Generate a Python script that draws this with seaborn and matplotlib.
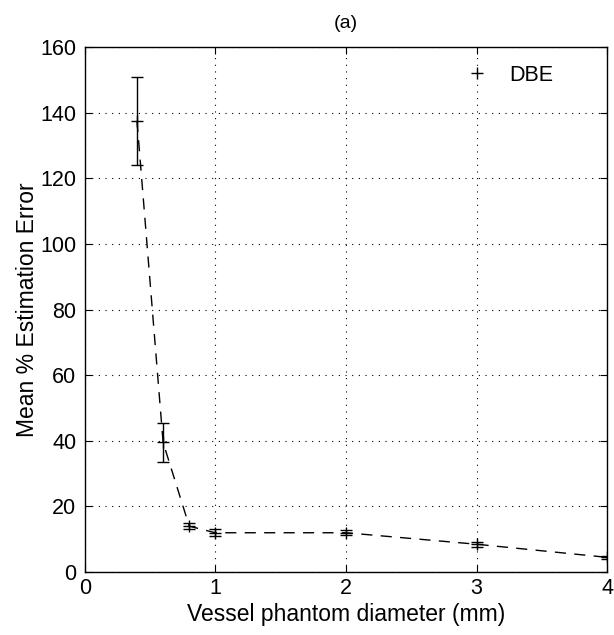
import matplotlib
matplotlib.use("Agg")
import matplotlib.pyplot as plt
import seaborn as sns
import pandas as pd

diameter = [0.4, 0.6, 0.8, 1.0, 2.0, 3.0, 4.0]
mean_err = [137.5, 39.5, 14.0, 12.0, 12.0, 8.5, 4.5]
err_low = [124.0, 33.5, 13.0, 11.0, 11.3, 7.8, 4.0]
err_high = [151.0, 45.5, 15.0, 13.0, 12.7, 9.2, 5.0]

sns.set_style("white")
plt.rcParams['font.family'] = ['Liberation Sans', 'DejaVu Sans']
plt.rcParams['text.color'] = 'black'
plt.rcParams['axes.labelcolor'] = 'black'
plt.rcParams['xtick.color'] = 'black'
plt.rcParams['ytick.color'] = 'black'

df = pd.DataFrame({"d": diameter, "m": mean_err})

fig = plt.figure(figsize=(6.14, 6.35), dpi=100)
ax = fig.add_axes([0.138, 0.099, 0.851, 0.827])

sns.lineplot(data=df, x="d", y="m", ax=ax, color="black", linestyle=(0, (8, 6)),
             linewidth=1.0, marker="+", markersize=9, markeredgewidth=1.0,
             markeredgecolor="black", label="DBE")
yerr = [[m - l for m, l in zip(mean_err, err_low)],
        [h - m for m, h in zip(mean_err, err_high)]]
ax.errorbar(diameter, mean_err, yerr=yerr, fmt="none", ecolor="black",
            elinewidth=1.0, capsize=4, capthick=1.0)

ax.set_xlim(0, 4)
ax.set_ylim(0, 160)
ax.set_xticks([0, 1, 2, 3, 4])
ax.set_yticks(range(0, 161, 20))
ax.grid(True, linestyle=(0, (1, 5)), color="black", linewidth=0.8)
for s in ax.spines.values():
    s.set_color("black")
    s.set_linewidth(1.0)
ax.tick_params(axis="both", labelsize=15.5, direction="in", length=5, color="black",
               top=True, right=True, left=True, bottom=True, pad=6)
ax.tick_params(axis="x", pad=4)
ax.set_xlabel("Vessel phantom diameter (mm)", fontsize=16.5, labelpad=3)
ax.set_ylabel("Mean % Estimation Error", fontsize=16.5, labelpad=1)
ax.set_title("(a)", fontsize=14, pad=14)

leg = ax.legend(loc="upper right", bbox_to_anchor=(0.925, 0.995), frameon=False,
                fontsize=15.5, handlelength=1.2, handletextpad=0.9, borderaxespad=0.3)
for h in leg.legend_handles:
    h.set_linestyle("none")

fig.savefig("out.png", dpi=100)
